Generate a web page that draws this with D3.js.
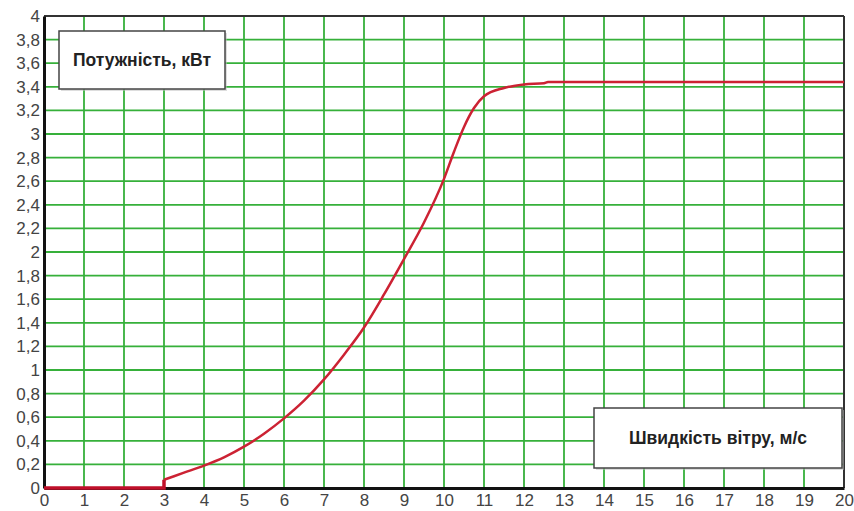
<!DOCTYPE html>
<html>
<head>
<meta charset="utf-8">
<script src="https://cdn.jsdelivr.net/npm/d3@7"></script>
<style>
  html, body { margin: 0; padding: 0; background: #fff; }
  svg { display: block; }
  text { font-family: "Liberation Sans", Arial, sans-serif; }
</style>
</head>
<body>
<svg id="chart" width="854" height="511"></svg>
<script>
// Wind speed (m/s) and power (kW)
const zeroSpeed = [0, 3, 3];
const zeroPower = [0, 0, 0.07];
const speed = [3, 3.5, 4, 4.5, 5, 5.5, 6, 6.5, 7, 7.5, 8, 8.5, 9, 9.5, 10, 10.25, 10.5, 10.75, 11, 11.5, 12, 12.5, 12.6, 13, 14, 15, 16, 17, 18, 19, 20];
const power = [0.07, 0.13, 0.19, 0.26, 0.35, 0.46, 0.59, 0.74, 0.92, 1.13, 1.36, 1.64, 1.94, 2.25, 2.62, 2.85, 3.06, 3.22, 3.32, 3.39, 3.42, 3.43, 3.44, 3.44, 3.44, 3.44, 3.44, 3.44, 3.44, 3.44, 3.44];
const xTicks = d3.range(0, 21, 1);
const yTicks = [0, 0.2, 0.4, 0.6, 0.8, 1, 1.2, 1.4, 1.6, 1.8, 2, 2.2, 2.4, 2.6, 2.8, 3, 3.2, 3.4, 3.6, 3.8, 4];
const yLabel = "Потужність, кВт";
const xLabel = "Швидкість вітру, м/с";

const svg = d3.select("#chart");
const pLeft = 44, pRight = 844, pTop = 16, pBottom = 488;
const x = d3.scaleLinear().domain([0, 20]).range([pLeft, pRight]);
const y = d3.scaleLinear().domain([0, 4]).range([pBottom, pTop]);

// grid
const grid = svg.append("g");
grid.selectAll("line.v").data(xTicks.filter(d => d > 0 && d < 20)).join("line")
  .attr("x1", d => x(d)).attr("x2", d => x(d)).attr("y1", pTop).attr("y2", pBottom)
  .attr("stroke", "#36b03a").attr("stroke-width", 1.8);
grid.selectAll("line.h").data(yTicks.filter(d => d > 0 && d < 4)).join("line")
  .attr("x1", pLeft).attr("x2", pRight).attr("y1", d => y(d)).attr("y2", d => y(d))
  .attr("stroke", "#36b03a").attr("stroke-width", 1.8);

// frame
svg.append("line").attr("x1", pLeft).attr("x2", pRight).attr("y1", pTop).attr("y2", pTop)
  .attr("stroke", "#333").attr("stroke-width", 2);
svg.append("line").attr("x1", pRight).attr("x2", pRight).attr("y1", pTop).attr("y2", pBottom)
  .attr("stroke", "#333").attr("stroke-width", 2);

// axes
const xAxis = svg.append("g").attr("transform", `translate(0,${pBottom})`)
  .call(d3.axisBottom(x).tickValues(xTicks).tickSize(0).tickPadding(6).tickFormat(d3.format("d")));
const fmtY = d => String(d).replace(".", ",");
const yAxis = svg.append("g").attr("transform", `translate(${pLeft},0)`)
  .call(d3.axisLeft(y).tickValues(yTicks).tickSize(0).tickPadding(4).tickFormat(fmtY));
[xAxis, yAxis].forEach(g => {
  g.select(".domain").attr("stroke", "#111").attr("stroke-width", 3);
  g.selectAll("text").attr("font-size", 17).attr("fill", "#444")
    .attr("font-family", "'Liberation Sans', Arial, sans-serif");
});
xAxis.selectAll("text").attr("dy", "0.7em");

// curve
svg.append("path")
  .datum(zeroSpeed.map((s, i) => [s, zeroPower[i]]))
  .attr("d", d3.line().x(d => x(d[0])).y(d => y(d[1])))
  .attr("fill", "none").attr("stroke", "#c0102a").attr("stroke-width", 3.5);
svg.append("path")
  .datum(speed.map((s, i) => [s, power[i]]))
  .attr("d", d3.line().x(d => x(d[0])).y(d => y(d[1])).curve(d3.curveMonotoneX))
  .attr("fill", "none").attr("stroke", "#cc2233").attr("stroke-width", 2.5);

// label boxes
function box(x0, y0, w, h, label) {
  svg.append("rect").attr("x", x0 + 2).attr("y", y0 + 2).attr("width", w).attr("height", h)
    .attr("fill", "#bbb").attr("opacity", 0.5);
  svg.append("rect").attr("x", x0).attr("y", y0).attr("width", w).attr("height", h)
    .attr("fill", "#fff").attr("stroke", "#444").attr("stroke-width", 1.5);
  svg.append("text").attr("x", x0 + w / 2).attr("y", y0 + h / 2).attr("dy", "0.35em")
    .attr("text-anchor", "middle").attr("font-size", 17.5).attr("font-weight", "bold")
    .attr("fill", "#222").text(label);
}
box(59, 31, 166, 58, yLabel);
box(594, 408, 248, 60, xLabel);
</script>
</body>
</html>
